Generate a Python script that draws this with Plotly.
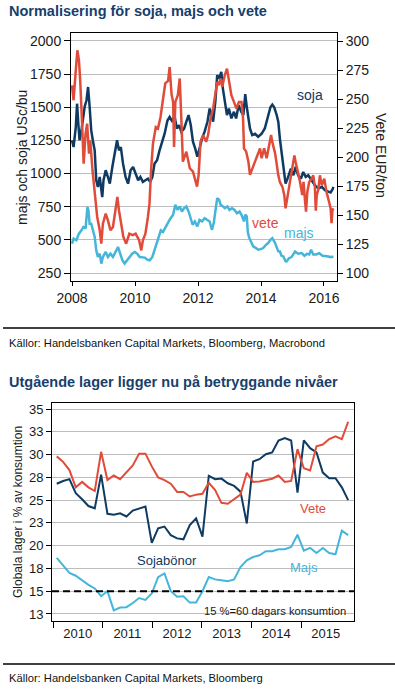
import plotly.graph_objects as go
import pandas as pd

# ---------------- Chart 1 data ----------------
soja_year = [2008.00, 2008.05, 2008.12, 2008.16, 2008.20, 2008.24, 2008.30, 2008.35, 2008.40, 2008.46,
             2008.51, 2008.56, 2008.61, 2008.66, 2008.72, 2008.77, 2008.82, 2008.88, 2008.93, 2008.96,
             2009.00, 2009.07, 2009.14, 2009.20, 2009.28, 2009.35, 2009.43, 2009.49, 2009.55, 2009.62,
             2009.70, 2009.78, 2009.86, 2009.94, 2010.02, 2010.10, 2010.17, 2010.25, 2010.33, 2010.41,
             2010.48, 2010.55, 2010.62, 2010.70, 2010.78, 2010.87, 2010.94, 2011.03, 2011.10, 2011.19,
             2011.25, 2011.33, 2011.40, 2011.47, 2011.56, 2011.63, 2011.70, 2011.77, 2011.84, 2011.91,
             2011.98, 2012.05, 2012.13, 2012.21, 2012.30, 2012.37, 2012.42, 2012.48, 2012.55, 2012.61,
             2012.67, 2012.74, 2012.79, 2012.85, 2012.92, 2012.98, 2013.06, 2013.14, 2013.21, 2013.29,
             2013.37, 2013.44, 2013.50, 2013.55, 2013.60, 2013.65, 2013.72, 2013.81, 2013.91, 2014.02,
             2014.12, 2014.23, 2014.30, 2014.36, 2014.42, 2014.50, 2014.55, 2014.60, 2014.66, 2014.71,
             2014.78, 2014.84, 2014.90, 2014.95, 2015.03, 2015.10, 2015.18, 2015.27, 2015.34, 2015.42,
             2015.50, 2015.61, 2015.71, 2015.82, 2015.93, 2016.03, 2016.14, 2016.21, 2016.27, 2016.30]
soja_usc = [1251, 1200, 1351, 1527, 1377, 1251, 1326, 1402, 1502, 1553,
            1653, 1502, 1326, 1251, 1175, 950, 899, 974, 874, 823,
            950, 1025, 974, 924, 1050, 1150, 1251, 1175, 1200, 1075,
            974, 924, 1025, 1050, 1000, 950, 974, 937, 950, 962,
            937, 974, 1075, 1100, 1175, 1251, 1301, 1400, 1427, 1390,
            1441, 1339, 1366, 1316, 1340, 1391, 1441, 1366, 1240, 1190,
            1128, 1190, 1265, 1316, 1391, 1491, 1441, 1391, 1541, 1742,
            1717, 1767, 1641, 1541, 1441, 1491, 1416, 1466, 1416, 1516,
            1466, 1441, 1600, 1500, 1400, 1340, 1290, 1300, 1278, 1300,
            1340, 1441, 1500, 1520, 1500, 1440, 1390, 1262, 1162, 1062,
            925, 960, 1010, 1037, 987, 1050, 987, 962, 1012, 975,
            987, 950, 912, 887, 900, 875, 862, 857, 880, 900]

majs_year = [2008.00, 2008.05, 2008.14, 2008.22, 2008.30, 2008.36, 2008.43, 2008.49, 2008.52, 2008.56,
             2008.61, 2008.67, 2008.72, 2008.77, 2008.82, 2008.88, 2008.93, 2008.98, 2009.07, 2009.14,
             2009.22, 2009.30, 2009.38, 2009.46, 2009.53, 2009.60, 2009.67, 2009.75, 2009.83, 2009.91,
             2009.99, 2010.07, 2010.15, 2010.23, 2010.31, 2010.39, 2010.47, 2010.55, 2010.62, 2010.69,
             2010.76, 2010.82, 2010.89, 2010.97, 2011.05, 2011.12, 2011.21, 2011.28, 2011.35, 2011.42,
             2011.49, 2011.56, 2011.63, 2011.70, 2011.77, 2011.83, 2011.90, 2011.98, 2012.05, 2012.13,
             2012.21, 2012.29, 2012.37, 2012.44, 2012.50, 2012.55, 2012.61, 2012.67, 2012.72, 2012.79,
             2012.85, 2012.93, 2013.00, 2013.08, 2013.16, 2013.24, 2013.32, 2013.38, 2013.46, 2013.50,
             2013.55, 2013.58, 2013.62, 2013.68, 2013.75, 2013.83, 2013.91, 2013.99, 2014.07, 2014.15,
             2014.23, 2014.30, 2014.36, 2014.44, 2014.50, 2014.55, 2014.60, 2014.65, 2014.71, 2014.78,
             2014.81, 2014.89, 2014.97, 2015.08, 2015.18, 2015.29, 2015.38, 2015.46, 2015.53, 2015.59,
             2015.66, 2015.75, 2015.85, 2015.95, 2016.05, 2016.15, 2016.22, 2016.30]
majs_usc = [471, 509, 497, 547, 572, 597, 585, 748, 723, 622,
            622, 572, 522, 421, 371, 396, 321, 371, 409, 371,
            396, 371, 409, 446, 396, 346, 321, 346, 371, 396,
            409, 396, 371, 366, 366, 351, 346, 371, 421, 471,
            522, 572, 560, 600, 630, 660, 689, 764, 726, 752,
            714, 739, 752, 714, 664, 614, 639, 601, 651, 639,
            664, 651, 639, 576, 626, 714, 814, 802, 764, 752,
            739, 752, 726, 739, 726, 701, 714, 689, 639, 690,
            676, 560, 520, 488, 451, 440, 426, 430, 438, 460,
            476, 500, 513, 480, 437, 413, 412, 380, 375, 338,
            337, 362, 370, 412, 395, 400, 380, 395, 390, 425,
            390, 390, 400, 380, 378, 375, 370, 375]

vete_year = [2008.00, 2008.05, 2008.12, 2008.17, 2008.22, 2008.26, 2008.32, 2008.37, 2008.43, 2008.48,
             2008.54, 2008.58, 2008.65, 2008.72, 2008.80, 2008.88, 2008.93, 2008.98, 2009.07, 2009.14,
             2009.22, 2009.30, 2009.38, 2009.44, 2009.49, 2009.56, 2009.63, 2009.72, 2009.82, 2009.93,
             2010.02, 2010.13, 2010.20, 2010.25, 2010.33, 2010.41, 2010.46, 2010.51, 2010.57, 2010.66,
             2010.73, 2010.81, 2010.89, 2010.96, 2011.05, 2011.10, 2011.16, 2011.21, 2011.24, 2011.28,
             2011.36, 2011.42, 2011.47, 2011.52, 2011.63, 2011.74, 2011.84, 2011.91, 2011.97, 2012.02,
             2012.08, 2012.16, 2012.26, 2012.32, 2012.40, 2012.48, 2012.55, 2012.61, 2012.66, 2012.72,
             2012.77, 2012.85, 2012.92, 2012.98, 2013.06, 2013.14, 2013.22, 2013.30, 2013.38, 2013.43,
             2013.46, 2013.53, 2013.60, 2013.65, 2013.72, 2013.81, 2013.89, 2013.97, 2014.02, 2014.10,
             2014.18, 2014.25, 2014.32, 2014.36, 2014.40, 2014.45, 2014.55, 2014.60, 2014.68, 2014.74,
             2014.78, 2014.85, 2014.92, 2015.00, 2015.06, 2015.10, 2015.18, 2015.24, 2015.31, 2015.35,
             2015.40, 2015.43, 2015.47, 2015.53, 2015.61, 2015.66, 2015.71, 2015.74, 2015.77, 2015.82,
             2015.87, 2015.93, 2016.01, 2016.08, 2016.16, 2016.21, 2016.24, 2016.27, 2016.30]
vete_eur = [261.8, 248.9, 274.7, 292.0, 283.3, 266.1, 228.8, 194.3, 220.0, 228.8,
            202.9, 214.3, 188.6, 171.3, 148.3, 136.8, 125.3, 142.5, 151.2, 145.4,
            136.8, 139.7, 154.1, 165.5, 154.1, 142.5, 131.1, 125.3, 133.9, 132.6,
            133.9, 128.2, 119.5, 128.2, 133.9, 148.3, 159.8, 188.6, 211.5, 225.8,
            224.6, 234.5, 249.7, 263.4, 265.7, 277.6, 254.3, 247.4, 208.6, 247.5,
            253.3, 267.7, 233.3, 196.0, 204.6, 190.3, 187.4, 178.9, 174.5, 184.6,
            213.1, 218.9, 213.1, 218.9, 233.3, 241.8, 256.2, 264.8, 261.9, 267.7,
            260.5, 270.5, 276.2, 267.7, 253.3, 247.5, 241.8, 247.5, 247.5, 233.3,
            207.4, 204.6, 196.0, 184.6, 190.3, 196.0, 201.7, 207.4, 198.9, 207.4,
            198.9, 210.3, 218.9, 212.8, 207.4, 202.9, 184.2, 178.5, 174.3, 167.1,
            155.7, 167.1, 178.5, 191.4, 201.4, 195.7, 187.1, 178.5, 167.1, 178.5,
            161.4, 152.8, 169.9, 178.5, 181.4, 184.2, 174.3, 153.7, 167.1, 172.0,
            184.2, 175.7, 181.4, 169.9, 161.4, 155.7, 142.9, 154.3, 155.7]

left_ticks = [250, 500, 750, 1000, 1250, 1500, 1750, 2000]
right_ticks = [100, 125, 150, 175, 200, 225, 250, 275, 300]
x1_ticks = [2008, 2010, 2012, 2014, 2016]

# ---------------- Chart 2 data ----------------
lager_start, lager_end, n_obs = "2010-01-28", "2015-12-14", 47
vete_lager = [29.8, 29.2, 28.3, 26.4, 27.0, 26.4, 26.0, 30.3, 27.2, 27.7,
              27.3, 28.0, 28.8, 30.1, 30.1, 28.7, 27.5, 27.2, 26.8, 25.9,
              25.9, 25.4, 25.6, 25.7, 26.9, 26.1, 24.7, 24.6, 25.1, 25.6,
              28.0, 27.0, 27.05, 27.2, 27.35, 27.7, 27.0, 27.1, 30.6, 28.5,
              28.25, 30.9, 31.1, 31.7, 32.0, 31.7, 33.6]
soja_lager = [26.8, 27.1, 27.3, 25.75, 25.1, 24.35, 24.1, 27.8, 23.5, 23.4,
              23.55, 23.2, 23.85, 24.05, 24.3, 20.3, 21.9, 22.1, 21.15, 20.8,
              20.7, 22.25, 23.0, 21.0, 27.66, 27.3, 27.36, 26.85, 26.56, 25.93,
              22.44, 29.24, 29.49, 30.04, 30.23, 31.55, 31.81, 31.55, 25.82, 31.55,
              30.7, 30.23, 28.02, 27.4, 27.4, 26.4, 25.0]
majs_lager = [18.66, 17.78, 17.0, 16.7, 16.2, 15.7, 15.3, 14.45, 15.0, 12.9,
              13.2, 13.25, 13.7, 14.25, 14.05, 14.75, 16.55, 16.95, 15.0, 14.4,
              14.45, 13.75, 13.75, 15.0, 16.55, 16.3, 16.2, 16.1, 16.3, 17.65,
              18.4, 18.75, 18.95, 19.4, 19.4, 19.6, 19.6, 19.85, 21.2, 19.45,
              19.75, 19.2, 19.75, 19.2, 19.05, 21.65, 21.15]
threshold = 15
y2_tickvals = [12.5, 15, 17.5, 20, 22.5, 25, 27.5, 30, 32.5, 35]
y2_ticktext = ["13", "15", "18", "20", "23", "25", "28", "30", "33", "35"]
year_labels = ["2010", "2011", "2012", "2013", "2014", "2015"]
year_mid = ["2010-07-02", "2011-07-02", "2012-07-02", "2013-07-02", "2014-07-02", "2015-07-02"]
year_start = ["2010-01-01", "2011-01-01", "2012-01-01", "2013-01-01", "2014-01-01", "2015-01-01"]

lager_dates = pd.date_range(lager_start, lager_end, periods=n_obs)

# ---------------- Styling ----------------
NAVY = "#0f3a62"
RED = "#e14b39"
CYAN = "#45b5da"
TITLE = "#17406b"
FONT = "Liberation Sans, Arial, sans-serif"
W, H = 395, 691


def px(x):
    return x / W


def py(y):
    return 1 - y / H


fig = go.Figure()

# chart 1 traces
fig.add_trace(go.Scatter(x=majs_year, y=majs_usc, mode="lines", line=dict(color=CYAN, width=2.5),
                         xaxis="x", yaxis="y", name="majs"))
fig.add_trace(go.Scatter(x=soja_year, y=soja_usc, mode="lines", line=dict(color=NAVY, width=2.5),
                         xaxis="x", yaxis="y", name="soja"))
fig.add_trace(go.Scatter(x=vete_year, y=vete_eur, mode="lines", line=dict(color=RED, width=2.5),
                         xaxis="x", yaxis="y2", name="vete"))

# chart 2 traces
fig.add_trace(go.Scatter(x=lager_dates, y=majs_lager, mode="lines", line=dict(color=CYAN, width=2),
                         xaxis="x2", yaxis="y3", name="Majs"))
fig.add_trace(go.Scatter(x=lager_dates, y=soja_lager, mode="lines", line=dict(color=NAVY, width=2),
                         xaxis="x2", yaxis="y3", name="Sojabönor"))
fig.add_trace(go.Scatter(x=lager_dates, y=vete_lager, mode="lines", line=dict(color=RED, width=2),
                         xaxis="x2", yaxis="y3", name="Vete"))

axis_font = dict(family=FONT, size=14, color="#1a1a1a")
axis_font2 = dict(family=FONT, size=13, color="#1a1a1a")

fig.update_layout(
    width=W, height=H,
    margin=dict(l=0, r=0, t=0, b=0, autoexpand=False),
    paper_bgcolor="white", plot_bgcolor="white",
    showlegend=False, hovermode=False,
    font=dict(family=FONT, color="#1a1a1a"),
    xaxis=dict(domain=[px(71), px(337)], anchor="y", range=[2007.968, 2016.413], automargin=False,
               tickmode="array", tickvals=x1_ticks, ticktext=[str(v) for v in x1_ticks],
               ticks="outside", ticklen=4, tickcolor="black", showgrid=False,
               showline=True, linecolor="black", linewidth=1, mirror=True,
               tickfont=axis_font, zeroline=False),
    yaxis=dict(domain=[py(281), py(33)], anchor="x", range=[189.7, 2060.3], automargin=False,
               tickmode="array", tickvals=left_ticks, ticks="outside", ticklen=6,
               tickcolor="black", showgrid=True, gridcolor="#bdbdbd", gridwidth=1,
               showline=True, linecolor="black", linewidth=1, mirror=True,
               tickfont=axis_font, zeroline=False),
    yaxis2=dict(overlaying="y", anchor="x", side="right", range=[93.1, 306.9], automargin=False,
                tickmode="array", tickvals=right_ticks, ticks="outside", ticklen=5,
                tickcolor="black", showgrid=False, showline=True, linecolor="black",
                linewidth=1, tickfont=axis_font, zeroline=False),
    xaxis2=dict(domain=[px(52), px(354)], anchor="y3", type="date", automargin=False,
                range=["2009-12-24", "2016-01-26"],
                tickmode="array", tickvals=year_mid, ticktext=year_labels, ticks="",
                minor=dict(tickmode="array", tickvals=year_start, ticks="outside",
                           ticklen=6, tickcolor="black", showgrid=False),
                showgrid=False, showline=True, linecolor="black", linewidth=1, mirror=True,
                tickfont=axis_font2, zeroline=False),
    yaxis3=dict(domain=[py(621), py(403)], anchor="x2", range=[11.73, 35.66], automargin=False,
                tickmode="array", tickvals=y2_tickvals, ticktext=y2_ticktext,
                ticks="outside", ticklen=5, tickcolor="black",
                showgrid=True, gridcolor="#bdbdbd", gridwidth=1,
                showline=True, linecolor="black", linewidth=1, mirror=True,
                tickfont=axis_font2, zeroline=False),
)

shapes = [
    dict(type="line", xref="x2 domain", yref="y3", x0=0, x1=1, y0=threshold, y1=threshold,
         line=dict(color="black", width=2, dash="7px,4px")),
    dict(type="line", xref="paper", yref="paper", x0=px(3), x1=1, y0=py(328), y1=py(328),
         line=dict(color="black", width=1.5)),
    dict(type="line", xref="paper", yref="paper", x0=px(3), x1=1, y0=py(664), y1=py(664),
         line=dict(color="black", width=1.5)),
]
fig.update_layout(shapes=shapes)


def ann(text, x, y, size, color, xanchor="center", angle=0, bold=False):
    t = f"<b>{text}</b>" if bold else text
    return dict(text=t, x=px(x), y=py(y), xref="paper", yref="paper", showarrow=False,
                xanchor=xanchor, yanchor="middle", textangle=angle,
                font=dict(family=FONT, size=size, color=color))


annotations = [
    ann("Normalisering för soja, majs och vete", 7, 11, 14.5, TITLE, xanchor="left", bold=True),
    ann("majs och soja USc/bu", 22, 158, 14, "#1a1a1a", angle=-90),
    ann("Vete EUR/ton", 381, 155, 14, "#1a1a1a", angle=90),
    ann("soja", 310, 95, 14, NAVY),
    ann("vete", 265, 223, 14, RED),
    ann("majs", 299, 233, 14, CYAN),
    ann("Källor: Handelsbanken Capital Markets, Bloomberg, Macrobond", 7, 343, 11.2, "#111111",
        xanchor="left"),
    ann("Utgående lager ligger nu på betryggande nivåer", 7, 382, 14.5, TITLE, xanchor="left",
        bold=True),
    ann("Globala lager i % av konsumtion", 18, 512, 12, "#1a1a1a", angle=-90),
    ann("Vete", 313, 508, 13, RED),
    ann("Majs", 304, 567, 13, CYAN),
    ann("Sojabönor", 167, 560, 13, NAVY),
    ann("15 %=60 dagars konsumtion", 275, 611, 11.2, "#1a1a1a"),
    ann("Källor: Handelsbanken Capital Markets, Bloomberg", 7, 678, 11.2, "#111111",
        xanchor="left"),
]
fig.update_layout(annotations=annotations)

fig.write_html("out.html", config=dict(displayModeBar=False),
               post_script="document.body.style.margin='0';document.body.style.overflow='hidden';")
